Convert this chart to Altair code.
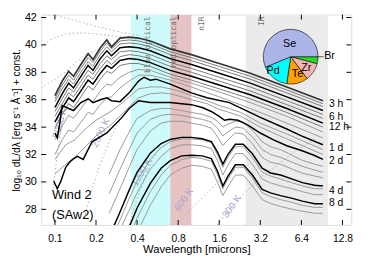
import altair as alt
import pandas as pd

# ---------------- wavelength grids (microns) ----------------
GU = [0.1, 0.113, 0.126, 0.137, 0.155, 0.175, 0.19, 0.215, 0.24, 0.26, 0.3, 0.35, 0.41, 0.5, 0.7, 1.0, 1.6, 2.7, 5.0, 9.2]
G1D = [0.1, 0.104, 0.108, 0.113, 0.126, 0.137, 0.155, 0.175, 0.19, 0.215, 0.24, 0.26, 0.3, 0.35, 0.41, 0.45, 0.5, 0.55, 0.7, 1.0, 1.3, 1.9, 3.2, 5.0, 6.4, 9.2]
GT = [0.1, 0.12, 0.14, 0.17, 0.2, 0.25, 0.3, 0.35, 0.41, 0.5, 0.6, 0.7, 0.85, 1.0, 1.3, 1.6, 1.9, 2.3, 3.2, 5.0, 9.2]
G2D = [0.098, 0.104, 0.11, 0.12, 0.128, 0.135, 0.146, 0.161, 0.187, 0.24, 0.31, 0.35, 0.41, 0.5, 0.6, 0.7, 0.85, 1.0, 1.2, 1.4, 1.6, 1.75, 1.9, 2.2, 2.6, 3.2, 4.0, 5.0, 6.4, 8.0, 9.2]
GL = [0.25, 0.3, 0.35, 0.4, 0.5, 0.6, 0.7, 0.85, 1.0, 1.2, 1.4, 1.55, 1.7, 1.85, 2.1, 2.4, 2.8, 3.3, 3.8, 4.5, 5.5, 6.5, 8.0, 9.2]

# ---------------- spectra: log10 dL/dlambda + const ----------------
s_3h = [36.29, 37.36, 38.07, 37.71, 38.57, 39.36, 38.93, 39.79, 40.36, 39.86, 40.5, 40.57, 40.5, 40.29, 39.71, 39.29, 38.64, 37.93, 36.93, 35.93]
s_e2 = [36.07, 37.07, 37.79, 37.43, 38.29, 39.07, 38.71, 39.57, 40.14, 39.71, 40.29, 40.36, 40.29, 40.07, 39.5, 39.07, 38.43, 37.71, 36.71, 35.71]
s_e3 = [35.86, 36.79, 37.5, 37.14, 38.0, 38.79, 38.43, 39.29, 39.86, 39.5, 40.07, 40.14, 40.07, 39.86, 39.29, 38.86, 38.21, 37.5, 36.5, 35.5]
s_6h = [35.43, 36.43, 37.21, 36.86, 37.71, 38.5, 38.14, 39.0, 39.57, 39.21, 39.79, 39.86, 39.79, 39.57, 39.0, 38.57, 37.93, 37.21, 36.21, 35.21]
s_e5 = [35.14, 36.07, 36.86, 36.57, 37.36, 38.14, 37.86, 38.64, 39.21, 38.93, 39.5, 39.57, 39.5, 39.29, 38.71, 38.29, 37.64, 36.93, 35.93, 34.93]
s_e6 = [34.79, 35.71, 36.5, 36.21, 37.0, 37.79, 37.5, 38.29, 38.86, 38.57, 39.14, 39.29, 39.21, 39.0, 38.43, 38.0, 37.36, 36.64, 35.64, 34.64]
s_12h = [34.36, 35.36, 36.14, 35.86, 36.64, 37.43, 37.14, 37.93, 38.5, 38.29, 38.86, 39.0, 38.93, 38.71, 38.14, 37.71, 37.07, 36.36, 35.36, 34.29]
s_e8 = [33.93, 34.93, 35.71, 35.43, 36.21, 37.0, 36.71, 37.5, 38.07, 37.93, 38.5, 38.64, 38.64, 38.43, 37.86, 37.43, 36.79, 36.07, 35.07, 34.0]
s_m1 = [33.07, 34.07, 34.86, 34.64, 35.36, 36.07, 35.86, 36.64, 37.14, 37.07, 37.64, 38.0, 38.21, 38.14, 37.64, 37.21, 36.57, 35.79, 34.79, 33.64]
s_m2 = [32.0, 33.07, 33.79, 33.64, 34.36, 35.07, 34.93, 35.64, 36.14, 36.21, 36.86, 37.36, 37.79, 37.79, 37.43, 36.93, 36.21, 35.36, 34.29, 33.21]
s_1d = [33.57, 33.21, 34.14, 35.57, 35.36, 35.21, 35.79, 36.07, 35.79, 36.0, 36.14, 35.93, 35.86, 36.5, 37.36, 37.64, 37.43, 37.5, 37.14, 36.5, 36.14, 35.79, 34.71, 33.86, 33.36, 32.71]
s_t1 = [31.64, 32.71, 33.07, 33.93, 34.5, 35.07, 35.64, 36.21, 36.79, 36.93, 36.93, 36.79, 36.57, 36.29, 35.93, 35.57, 35.36, 35.07, 34.29, 33.5, 32.36]
s_t2 = [30.57, 31.29, 31.79, 32.64, 33.36, 34.07, 34.79, 35.5, 36.14, 36.43, 36.5, 36.43, 36.21, 36.0, 35.71, 35.29, 35.07, 34.79, 34.0, 33.14, 32.0]
s_2d = [30.07, 29.5, 30.0, 31.07, 31.43, 31.64, 31.86, 31.64, 32.93, 33.57, 34.71, 35.36, 35.93, 35.79, 35.79, 35.79, 35.71, 35.64, 35.43, 35.14, 34.79, 34.5, 34.57, 34.5, 34.14, 33.57, 33.07, 32.64, 32.29, 31.93, 31.64]
s_s1 = [30.57, 32.36, 33.64, 34.64, 35.21, 35.36, 35.36, 35.21, 35.07, 34.93, 34.71, 34.43, 34.0, 34.21, 34.43, 34.36, 33.79, 32.93, 32.57, 32.36, 31.93, 31.57, 31.29, 31.14]
s_s2 = [29.14, 30.93, 32.36, 33.57, 34.57, 34.86, 34.93, 34.86, 34.71, 34.57, 34.36, 33.93, 33.36, 33.64, 34.0, 33.93, 33.29, 32.36, 32.0, 31.79, 31.43, 31.14, 30.86, 30.71]
s_s3 = [27.71, 29.5, 31.07, 32.36, 33.71, 34.29, 34.43, 34.43, 34.29, 34.14, 33.93, 33.29, 32.64, 33.07, 33.57, 33.5, 32.79, 31.79, 31.43, 31.29, 30.93, 30.64, 30.43, 30.29]
s_4d = [26.0, 27.8, 29.4, 30.7, 32.1, 32.8, 33.1, 33.25, 33.25, 33.15, 32.95, 32.2, 31.3, 32.0, 32.75, 32.75, 32.05, 31.0, 30.65, 30.5, 30.2, 29.95, 29.75, 29.7]
s_s4 = [25.57, 27.21, 28.79, 30.07, 31.64, 32.5, 32.93, 33.14, 33.14, 33.07, 32.86, 32.0, 31.07, 31.79, 32.57, 32.57, 31.79, 30.71, 30.43, 30.21, 29.93, 29.71, 29.5, 29.5]
s_s5 = [25.21, 26.5, 27.93, 29.21, 30.93, 31.86, 32.43, 32.71, 32.71, 32.64, 32.43, 31.57, 30.5, 31.21, 32.07, 32.07, 31.29, 30.21, 29.93, 29.71, 29.5, 29.29, 29.07, 29.07]
s_8d = [24.6, 25.3, 26.7, 28.1, 29.9, 31.0, 31.55, 31.9, 31.95, 31.9, 31.7, 30.8, 29.7, 30.4, 31.25, 31.25, 30.5, 29.45, 29.2, 29.0, 28.8, 28.6, 28.4, 28.4]
s_s6 = [24.5, 24.86, 25.93, 27.36, 29.29, 30.5, 31.21, 31.64, 31.79, 31.71, 31.5, 30.57, 29.5, 30.21, 31.07, 31.07, 30.29, 29.21, 28.93, 28.71, 28.5, 28.29, 28.14, 28.14]
s_s7 = [24.14, 24.36, 25.07, 26.29, 28.29, 29.64, 30.5, 31.0, 31.21, 31.14, 30.93, 30.0, 29.0, 29.64, 30.5, 30.5, 29.71, 28.71, 28.43, 28.21, 28.0, 27.86, 27.71, 27.71]

spectra = [
    ("3h", GU, s_3h, "top"), ("e2", GU, s_e2, "dark"), ("e3", GU, s_e3, "dark"),
    ("6h", GU, s_6h, "thick"), ("e5", GU, s_e5, "dark"), ("e6", GU, s_e6, "dark"),
    ("12h", GU, s_12h, "thick"), ("e8", GU, s_e8, "dark"), ("m1", GU, s_m1, "gray"),
    ("m2", GU, s_m2, "gray"), ("1d", G1D, s_1d, "thick"), ("t1", GT, s_t1, "gray"),
    ("t2", GT, s_t2, "gray"), ("2d", G2D, s_2d, "thick"), ("s1", GL, s_s1, "gray"),
    ("s2", GL, s_s2, "gray"), ("s3", GL, s_s3, "gray"), ("4d", GL, s_4d, "thick"),
    ("s4", GL, s_s4, "gray"), ("s5", GL, s_s5, "gray"), ("8d", GL, s_8d, "thick"),
    ("s6", GL, s_s6, "gray"), ("s7", GL, s_s7, "gray"),
]

# ---------------- blackbody guide curves (dotted) ----------------
bb_curves = [
    ("bb1", [0.079, 0.1, 0.15, 0.2, 0.3, 0.42], [42.3, 42.15, 41.7, 41.35, 40.95, 40.65]),
    ("bb2", [0.079, 0.09, 0.1, 0.12, 0.15, 0.2, 0.3, 0.42], [39.86, 40.3, 40.55, 40.8, 40.88, 40.8, 40.6, 40.4]),
    ("bb3", [0.079, 0.1, 0.116, 0.146, 0.167, 0.2], [36.86, 37.5, 37.93, 38.8, 39.3, 39.6]),
    ("5000", [0.0968, 0.105, 0.114, 0.124, 0.139], [29.5, 32.36, 34.5, 35.93, 37.0]),
    ("2500", [0.164, 0.187, 0.214, 0.244, 0.278, 0.318], [27.36, 29.5, 31.29, 32.71, 33.93, 34.86]),
    ("1200", [0.35, 0.4, 0.457, 0.52, 0.61], [26.86, 28.79, 30.36, 31.64, 32.93]),
    ("600", [0.79, 0.98, 1.25, 1.6, 2.05, 2.62], [26.86, 27.93, 29.0, 30.07, 30.79, 31.29]),
    ("300", [1.55, 1.89, 2.42, 3.1, 4.3, 6.0, 8.3], [26.86, 27.93, 29.14, 30.21, 31.29, 32.36, 33.21]),
]
temp_text = ["5000 K", "2500 K", "1200 K", "600 K", "300 K"]
temp_lam = [0.109, 0.217, 0.435, 0.88, 1.98]
temp_val = [34.29, 33.57, 30.71, 28.71, 28.21]
temp_ang = [285, 295, 300, 305, 305]

# ---------------- wavelength bands ----------------
band_name = ["blue optical", "red optical", "IR"]
band_lo = [0.36, 0.7, 2.5]
band_hi = [0.7, 1.0, 10.0]
band_col = ["#cdfbfb", "#e6c3c3", "#ebebeb"]
blabel_text = ["blue optical", "red optical", "nIR", "IR"]
blabel_lam = [0.48, 0.74, 1.2, 3.3]

# ---------------- time labels ----------------
time_text = ["3 h", "6 h", "12 h", "1 d", "2 d", "4 d", "8 d"]
time_val = [35.71, 34.71, 34.0, 32.5, 31.5, 29.36, 28.43]
time_lam = [10.2] * 7

# ---------------- pie of composition ----------------
pie_el = ["Br", "Zr", "Te", "Pd", "Se"]
pie_frac = [0.042, 0.106, 0.125, 0.164, 0.563]
pie_col = ["#22dd22", "#f5b5b5", "#ffa200", "#00ffff", "#abb5e8"]
pie_center = (5.34, 39.14)
pie_lbl_lam = [6.95, 5.99, 3.97, 5.25]
pie_lbl_val = [38.29, 37.86, 38.07, 40.07]
br_lbl = ("Br", 9.4, 39.21)

xticks = [0.1, 0.2, 0.4, 0.8, 1.6, 3.2, 6.4, 12.8]
yticks = [28, 30, 32, 34, 36, 38, 40, 42]

W, H = 317, 215
FONT = "Liberation Sans"
xs = alt.Scale(type="log", base=2, domain=[0.0794, 14.86], nice=False)
ys = alt.Scale(domain=[26.86, 42.21], nice=False, zero=False)

rows = []
for name, grid, vals, style in spectra:
    for i, (l, v) in enumerate(zip(grid, vals)):
        rows.append({"line": name, "i": i, "lam": l, "v": v, "style": style})
spec_df = pd.DataFrame(rows)

bb_rows = []
for name, grid, vals in bb_curves:
    for i, (l, v) in enumerate(zip(grid, vals)):
        bb_rows.append({"line": name, "i": i, "lam": l, "v": v})
bb_df = pd.DataFrame(bb_rows)

XAX = alt.Axis(values=xticks, format=".1f", title="Wavelength [microns]",
               ticks=False, domain=False, grid=False, labelFontSize=10.5,
               titleFontSize=11.5, labelPadding=9, titlePadding=0,
               labelFont=FONT, titleFont=FONT, titleFontWeight="normal",
               labelColor="#000", titleColor="#000", labelOverlap=False)
YAX = alt.Axis(values=yticks, title="log₁₀ dL/dλ [erg s⁻¹ Å⁻¹] + const.",
               ticks=False, domain=False, grid=False, labelFontSize=11,
               titleFontSize=10.5, labelPadding=5, titlePadding=3,
               labelFont=FONT, titleFont=FONT, titleFontWeight="normal",
               labelColor="#000", titleColor="#000", labelOverlap=False)

xq = alt.X("lam:Q", scale=xs, axis=XAX)
yq = alt.Y("v:Q", scale=ys, axis=YAX)

bands = alt.Chart(pd.DataFrame({"name": band_name, "lo": band_lo, "hi": band_hi, "col": band_col})).mark_rect(clip=True).encode(
    x=alt.X("lo:Q", scale=xs, axis=XAX), x2="hi:Q", y=alt.value(0), y2=alt.value(H),
    color=alt.Color("col:N", scale=None))

blabels = alt.Chart(pd.DataFrame({"t": blabel_text, "lam": blabel_lam})).mark_text(
    angle=270, align="right", baseline="middle", font="DejaVu Sans Mono", fontSize=8, color="#6f6f6f", dx=-2
).encode(x=xq, y=alt.value(0), text="t:N")

bb = alt.Chart(bb_df).mark_line(clip=True, strokeDash=[1.5, 2.5], color="#b0b0b0", strokeWidth=1).encode(
    x=xq, y=yq, detail="line:N", order="i:Q")

temps = alt.Chart(pd.DataFrame({"t": temp_text, "lam": temp_lam, "v": temp_val, "a": temp_ang})).mark_text(
    font=FONT, fontSize=10, color="#a3a3cc", align="center", baseline="middle"
).encode(x=xq, y=yq, text="t:N", angle=alt.Angle("a:Q", scale=None))


def spec_layer(style, color, width):
    return alt.Chart(spec_df[spec_df["style"] == style]).mark_line(clip=True, color=color, strokeWidth=width).encode(
        x=xq, y=yq, detail="line:N", order="i:Q")


gray_l = spec_layer("gray", "#8e8e8e", 0.9)
dark_l = spec_layer("dark", "#6a6a6a", 0.9)
thick_l = spec_layer("thick", "#000000", 1.5)
top_l = spec_layer("top", "#333333", 1.7)

tlabels = alt.Chart(pd.DataFrame({"t": time_text, "lam": time_lam, "v": time_val})).mark_text(
    font=FONT, fontSize=10.5, align="left", baseline="middle", color="#000"
).encode(x=xq, y=yq, text="t:N")

pie_df = pd.DataFrame({"el": pie_el, "frac": pie_frac, "col": pie_col, "o": list(range(5)),
                       "lam": [pie_center[0]] * 5, "v": [pie_center[1]] * 5})
pie = alt.Chart(pie_df).mark_arc(radius=28, stroke="#000", strokeWidth=0.6).encode(
    x=xq, y=yq,
    theta=alt.Theta("frac:Q", stack=True, scale=alt.Scale(range=[1.5708, 7.854])),
    color=alt.Color("col:N", scale=None), order=alt.Order("o:Q"))

plbl = alt.Chart(pd.DataFrame({"t": pie_el[1:], "lam": pie_lbl_lam, "v": pie_lbl_val})).mark_text(
    font=FONT, fontSize=11, align="center", baseline="middle", color="#000"
).encode(x=xq, y=yq, text="t:N")

brl = alt.Chart(pd.DataFrame({"t": [br_lbl[0]], "lam": [br_lbl[1]], "v": [br_lbl[2]]})).mark_text(
    font=FONT, fontSize=11, align="left", baseline="middle", color="#000"
).encode(x=xq, y=yq, text="t:N")

br_lead = alt.Chart(pd.DataFrame({"a": [8.4], "b": [9.3], "v": [39.14]})).mark_rule(color="#000", strokeWidth=0.6).encode(
    x=alt.X("a:Q", scale=xs, axis=XAX), x2="b:Q", y=yq)

wind = alt.Chart(pd.DataFrame({"t": ["Wind 2", "(SAw2)"], "lam": [0.0952, 0.0952], "v": [29.07, 27.57]})).mark_text(
    font=FONT, fontSize=13, align="left", baseline="middle", color="#000"
).encode(x=xq, y=yq, text="t:N")

# inward ticks on all four sides
xt = pd.DataFrame({"lam": xticks})
yt = pd.DataFrame({"v": yticks})
tk_b = alt.Chart(xt).mark_rule(color="#000").encode(x=xq, y=alt.value(H), y2=alt.value(H - 5))
tk_t = alt.Chart(xt).mark_rule(color="#000").encode(x=xq, y=alt.value(0), y2=alt.value(5))
tk_l = alt.Chart(yt).mark_rule(color="#000").encode(y=yq, x=alt.value(0), x2=alt.value(5))
tk_r = alt.Chart(yt).mark_rule(color="#000").encode(y=yq, x=alt.value(W), x2=alt.value(W - 5))

chart = alt.layer(
    bands, blabels, bb, temps, gray_l, dark_l, thick_l, top_l, pie, plbl, brl, br_lead, tlabels, wind,
    tk_b, tk_t, tk_l, tk_r
).properties(
    width=W, height=H,
    padding={"left": 34, "top": 4, "right": 15, "bottom": 30},
    autosize=alt.AutoSizeParams(type="none"),
).configure_view(stroke="#000", strokeWidth=1).configure_axis(labelOverlap=False).configure(background="white")

chart.save("out.html", embed_options={"renderer": "svg", "actions": False})
